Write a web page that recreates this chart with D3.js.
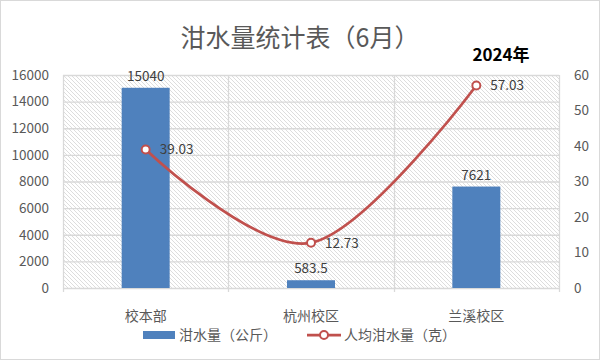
<!DOCTYPE html>
<html><head><meta charset="utf-8">
<script src="https://cdn.jsdelivr.net/npm/d3@7"></script>
<style>body{margin:0;background:#fff}svg{display:block}</style>
</head><body>
<script>
const categories = ["校本部", "杭州校区", "兰溪校区"];
const swillKg = [15040, 583.5, 7621];
const perCapitaG = [39.03, 12.73, 57.03];
const leftTicks = [0, 2000, 4000, 6000, 8000, 10000, 12000, 14000, 16000];
const rightTicks = [0, 10, 20, 30, 40, 50, 60];
const title = "泔水量统计表（6月）";
const subtitle = "2024年";
const seriesNames = ["泔水量（公斤）", "人均泔水量（克）"];

const W = 600, H = 360;
const m = {l: 63, r: 41, t: 75, b: 72};
const font = "'Microsoft YaHei','Noto Sans CJK SC',sans-serif";
const svg = d3.select("body").append("svg").attr("width", W).attr("height", H);

svg.append("rect").attr("x", 0.5).attr("y", 0.5).attr("width", W - 1).attr("height", H - 1)
  .attr("fill", "#fff").attr("stroke", "#d9d9d9");

const defs = svg.append("defs");
const pat = defs.append("pattern").attr("id", "hatch").attr("patternUnits", "userSpaceOnUse")
  .attr("width", 4).attr("height", 4);
pat.append("path").attr("d", "M-1,-1 L5,5 M-1,3 L1,5 M3,-1 L5,1").attr("stroke", "#d4d4d4").attr("stroke-width", 0.8);

const x = d3.scaleBand().domain(categories).range([m.l, W - m.r]).paddingInner(0).paddingOuter(0);
const yL = d3.scaleLinear().domain([0, 16000]).range([H - m.b, m.t]);
const yR = d3.scaleLinear().domain([0, 60]).range([H - m.b, m.t]);

svg.append("rect").attr("x", m.l).attr("y", m.t).attr("width", W - m.r - m.l).attr("height", H - m.b - m.t)
  .attr("fill", "url(#hatch)");

// gridlines
svg.append("g").selectAll("line").data(leftTicks).join("line")
  .attr("x1", m.l).attr("x2", W - m.r).attr("y1", d => yL(d) + 0.5).attr("y2", d => yL(d) + 0.5)
  .attr("stroke", "#d9d9d9").attr("stroke-width", 1.3);
const bounds = [m.l, ...categories.map(c => x(c) + x.bandwidth())];
svg.append("g").selectAll("line").data(bounds).join("line")
  .attr("x1", d => Math.round(d) + 0.5).attr("x2", d => Math.round(d) + 0.5)
  .attr("y1", m.t).attr("y2", H - m.b + 4)
  .attr("stroke", "#d9d9d9").attr("stroke-width", 1.3);

// axes labels
const gL = svg.append("g").attr("transform", `translate(${m.l - 11},0)`)
  .call(d3.axisLeft(yL).tickValues(leftTicks).tickSize(0).tickFormat(d3.format("d")));
const gR = svg.append("g").attr("transform", `translate(${W - m.r + 12},0)`)
  .call(d3.axisRight(yR).tickValues(rightTicks).tickSize(0));
[gL, gR].forEach(g => {
  g.select(".domain").remove();
  g.selectAll("text").attr("font-family", font).attr("font-size", 13.5).attr("fill", "#595959");
});
const gX = svg.append("g").attr("transform", `translate(0,${H - m.b + 20})`)
  .call(d3.axisBottom(x).tickSize(0));
gX.select(".domain").remove();
gX.selectAll("text").attr("font-family", font).attr("font-size", 14).attr("fill", "#595959");

// bars
const bw = 48;
svg.append("g").selectAll("rect").data(swillKg).join("rect")
  .attr("x", (d, i) => x(categories[i]) + x.bandwidth() / 2 - bw / 2)
  .attr("width", bw)
  .attr("y", d => yL(d)).attr("height", d => yL(0) - yL(d))
  .attr("fill", "#4f81bd");
svg.append("g").selectAll("text").data(swillKg).join("text")
  .attr("x", (d, i) => x(categories[i]) + x.bandwidth() / 2)
  .attr("y", d => yL(d) - 7)
  .attr("text-anchor", "middle").attr("font-family", font).attr("font-size", 13.5).attr("fill", "#404040")
  .text(d => d);

// line
const pts = perCapitaG.map((v, i) => [x(categories[i]) + x.bandwidth() / 2, yR(v)]);
svg.append("path").attr("d", d3.line().curve(d3.curveCardinal.tension(0))(pts))
  .attr("fill", "none").attr("stroke", "#c0504d").attr("stroke-width", 2.75);
svg.append("g").selectAll("circle").data(pts).join("circle")
  .attr("cx", d => d[0]).attr("cy", d => d[1]).attr("r", 4)
  .attr("fill", "#fff").attr("stroke", "#c0504d").attr("stroke-width", 2);
svg.append("g").selectAll("text").data(perCapitaG).join("text")
  .attr("x", (d, i) => pts[i][0] + 14).attr("y", (d, i) => pts[i][1])
  .attr("dy", "0.35em").attr("font-family", font).attr("font-size", 13.5).attr("fill", "#404040")
  .text(d => d.toFixed(2));

// title
svg.append("text").attr("x", 300).attr("y", 47).attr("text-anchor", "middle")
  .attr("font-family", font).attr("font-size", 25).attr("fill", "#595959").text(title);
svg.append("text").attr("x", 501).attr("y", 61).attr("text-anchor", "middle")
  .attr("font-family", font).attr("font-size", 17).attr("font-weight", "bold").attr("fill", "#000").text(subtitle);

// legend
const ly = 335;
svg.append("rect").attr("x", 143).attr("y", ly - 4).attr("width", 32).attr("height", 8).attr("fill", "#4f81bd");
svg.append("text").attr("x", 179).attr("y", ly).attr("dy", "0.35em").attr("font-family", font)
  .attr("font-size", 14).attr("fill", "#595959").text(seriesNames[0]);
svg.append("line").attr("x1", 307).attr("x2", 341).attr("y1", ly).attr("y2", ly)
  .attr("stroke", "#c0504d").attr("stroke-width", 2.75);
svg.append("circle").attr("cx", 324).attr("cy", ly).attr("r", 4).attr("fill", "#fff")
  .attr("stroke", "#c0504d").attr("stroke-width", 2);
svg.append("text").attr("x", 344).attr("y", ly).attr("dy", "0.35em").attr("font-family", font)
  .attr("font-size", 14).attr("fill", "#595959").text(seriesNames[1]);
</script>
</body></html>
